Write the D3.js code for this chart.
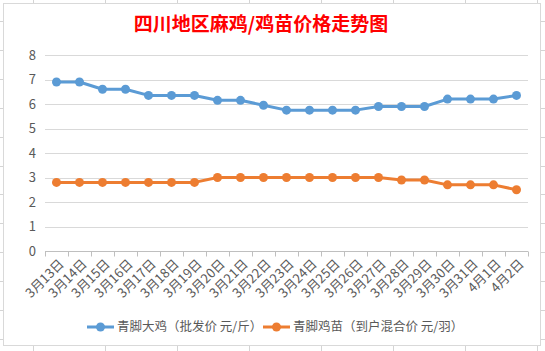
<!DOCTYPE html>
<html>
<head>
<meta charset="utf-8">
<script src="https://d3js.org/d3.v7.min.js"></script>
<style>
  body { margin:0; background:#fff; }
  svg { display:block; font-family:"Noto Sans CJK SC","Noto Sans",sans-serif; }
</style>
</head>
<body>
<div id="chart"></div>
<script>
// --- data
var dates = ["3月13日","3月14日","3月15日","3月16日","3月17日","3月18日","3月19日",
             "3月20日","3月21日","3月22日","3月23日","3月24日","3月25日","3月26日",
             "3月27日","3月28日","3月29日","3月30日","3月31日","4月1日","4月2日"];
var bigChicken = [6.9,6.9,6.6,6.6,6.35,6.35,6.35,6.15,6.15,5.95,5.75,5.75,5.75,5.75,
                  5.9,5.9,5.9,6.2,6.2,6.2,6.35];
var chicks = [2.8,2.8,2.8,2.8,2.8,2.8,2.8,3,3,3,3,3,3,3,3,2.9,2.9,2.7,2.7,2.7,2.5];
var yTicks = [0,1,2,3,4,5,6,7,8];
var seriesNames = ["青脚大鸡（批发价 元/斤）","青脚鸡苗（到户混合价 元/羽）"];
var title = "四川地区麻鸡/鸡苗价格走势图";

var W = 545, H = 351;
var blue = "#5b9bd5", orange = "#ed7d31", grey = "#595959";

var svg = d3.select("#chart").append("svg")
    .attr("width", W)
    .attr("height", H);

// spreadsheet cells behind the chart
var bg = svg.append("g").attr("stroke","#d4d4d4").attr("stroke-width",1);
d3.range(33, W, 72).forEach(function(x){
    bg.append("line").attr("x1",x+0.5).attr("x2",x+0.5).attr("y1",0).attr("y2",H);
});
d3.range(21, H, 28.9).forEach(function(y){
    bg.append("line").attr("x1",0).attr("x2",W).attr("y1",Math.round(y)+0.5).attr("y2",Math.round(y)+0.5);
});

svg.append("rect")
    .attr("x",3.5).attr("y",3.5)
    .attr("width",537).attr("height",342)
    .attr("fill","#fff")
    .attr("stroke","#d9d9d9");

// title
svg.append("text")
    .attr("x",261)
    .attr("y",31)
    .attr("text-anchor","middle")
    .attr("font-size",19)
    .attr("font-weight","bold")
    .attr("fill","#ff0000")
    .text(title);

var xScale = d3.scaleBand()
    .domain(dates)
    .range([45, 528]);

var yScale = d3.scaleLinear()
    .domain([0, 8])
    .range([251, 55]);

// gridlines + y labels
var grid = svg.append("g");
yTicks.forEach(function(t){
    if (t > 0) {
        grid.append("line")
            .attr("x1",45).attr("x2",528)
            .attr("y1",Math.round(yScale(t))+0.5)
            .attr("y2",Math.round(yScale(t))+0.5)
            .attr("stroke","#d9d9d9");
    }
    grid.append("text")
        .attr("x",36)
        .attr("y",yScale(t))
        .attr("dy","0.35em")
        .attr("text-anchor","end")
        .attr("font-size",13)
        .attr("fill",grey)
        .text(t);
});

// x axis
var xAxisGroup = svg.append("g")
    .attr("transform","translate(0," + (Math.round(yScale(0))+0.5) + ")");
xAxisGroup.append("line")
    .attr("x1",45).attr("x2",528)
    .attr("stroke","#bfbfbf");
dates.concat([null]).forEach(function(d){
    var x = d === null ? xScale.range()[1] : xScale(d);
    xAxisGroup.append("line")
        .attr("x1",Math.round(x)+0.5).attr("x2",Math.round(x)+0.5)
        .attr("y1",0).attr("y2",5)
        .attr("stroke","#bfbfbf");
});
dates.forEach(function(d){
    var cx = xScale(d) + xScale.bandwidth()/2;
    xAxisGroup.append("text")
        .attr("transform","translate(" + (cx+5) + ",10) rotate(-45)")
        .attr("text-anchor","end")
        .attr("dy","0.35em")
        .attr("font-size",13)
        .attr("fill",grey)
        .text(d);
});

// lines
var line = d3.line()
    .x(function(d,i){ return xScale(dates[i]) + xScale.bandwidth()/2; })
    .y(function(d){ return yScale(d); });

[[bigChicken, blue],[chicks, orange]].forEach(function(s){
    svg.append("path")
        .datum(s[0])
        .attr("d", line)
        .attr("fill","none")
        .attr("stroke", s[1])
        .attr("stroke-width",3)
        .attr("stroke-linejoin","round");
    svg.append("g").selectAll("circle")
        .data(s[0])
        .enter().append("circle")
        .attr("cx", function(d,i){ return xScale(dates[i]) + xScale.bandwidth()/2; })
        .attr("cy", function(d){ return yScale(d); })
        .attr("r",4.5)
        .attr("fill", s[1]);
});

//-----Legends
var legendItems = [[87, blue, seriesNames[0]],[263, orange, seriesNames[1]]];
legendItems.forEach(function(l){
    var lg = svg.append("g").attr("transform","translate(" + l[0] + ",327)");
    lg.append("line")
        .attr("x1",0).attr("x2",27)
        .attr("stroke",l[1]).attr("stroke-width",3);
    lg.append("circle").attr("cx",13.5).attr("cy",0).attr("r",4.5).attr("fill",l[1]);
    lg.append("text")
        .attr("x",30).attr("y",0).attr("dy","0.35em")
        .attr("font-size",12.5)
        .attr("fill",grey)
        .text(l[2]);
});
</script>
</body>
</html>
